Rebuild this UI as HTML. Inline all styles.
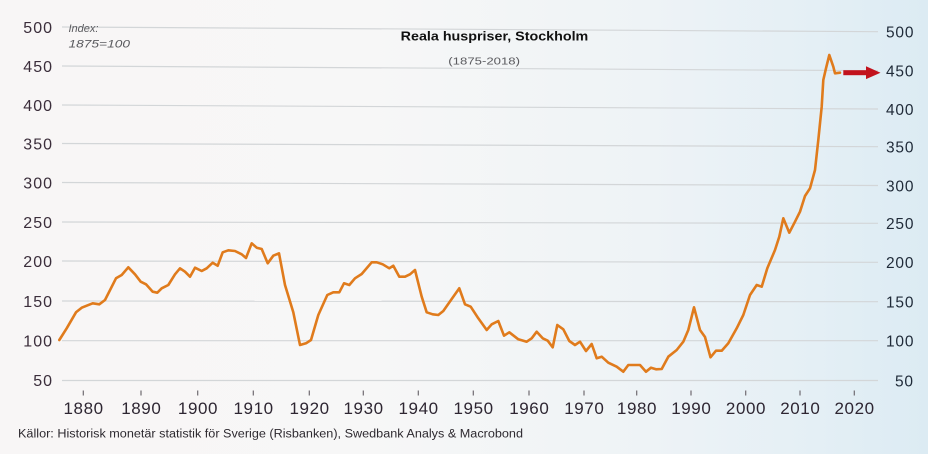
<!DOCTYPE html>
<html>
<head>
<meta charset="utf-8">
<style>
  html,body{margin:0;padding:0;}
  body{width:928px;height:454px;overflow:hidden;
    background:linear-gradient(90deg,#f8f6f6 0%,#f7f7f7 40%,#eef3f6 70%,#e4eff5 88%,#dcebf3 100%);}
  svg{display:block;}
  text{font-family:"Liberation Sans",sans-serif;}
</style>
</head>
<body>
<svg width="928" height="454" viewBox="0 0 928 454" xmlns="http://www.w3.org/2000/svg">
  <!-- gridlines -->
  <g stroke="#d3d6d8" stroke-width="1.2" fill="none">
    <line x1="62" y1="27" x2="878" y2="31.7"/>
    <line x1="62" y1="66" x2="878" y2="70.7"/>
    <line x1="62" y1="105" x2="878" y2="109"/>
    <line x1="62" y1="143.5" x2="878" y2="146.7"/>
    <line x1="62" y1="182.5" x2="878" y2="185.5"/>
    <line x1="62" y1="222" x2="878" y2="223.3"/>
    <line x1="62" y1="261" x2="878" y2="262.3"/>
    <line x1="62" y1="301" x2="878" y2="301.7"/>
    <line x1="62" y1="340.7" x2="878" y2="340.7"/>
    <line x1="62" y1="380.5" x2="878" y2="380.5"/>
  </g>

  <!-- left axis labels -->
  <g fill="#3b2e3b" font-size="16" letter-spacing="1" text-anchor="end">
    <text x="53" y="33">500</text>
    <text x="53" y="72">450</text>
    <text x="53" y="111">400</text>
    <text x="53" y="149.5">350</text>
    <text x="53" y="188.5">300</text>
    <text x="53" y="228">250</text>
    <text x="53" y="267">200</text>
    <text x="53" y="307">150</text>
    <text x="53" y="346.5">100</text>
    <text x="53" y="386">50</text>
  </g>

  <!-- right axis labels -->
  <g fill="#1f2a38" font-size="15.5" letter-spacing="0.8">
    <text x="886" y="37.5">500</text>
    <text x="886" y="76.5">450</text>
    <text x="886" y="114.8">400</text>
    <text x="886" y="152.5">350</text>
    <text x="886" y="191.3">300</text>
    <text x="886" y="229">250</text>
    <text x="886" y="268">200</text>
    <text x="886" y="307.5">150</text>
    <text x="886" y="346.5">100</text>
    <text x="895" y="386.3">50</text>
  </g>

  <!-- x ticks -->
  <g stroke="#6f6a70" stroke-width="1.2">
    <line x1="83.3" y1="390.5" x2="83.3" y2="395.5"/>
    <line x1="141" y1="390.5" x2="141" y2="395.5"/>
    <line x1="197.7" y1="390.5" x2="197.7" y2="395.5"/>
    <line x1="253.3" y1="390.5" x2="253.3" y2="395.5"/>
    <line x1="309.3" y1="390.5" x2="309.3" y2="395.5"/>
    <line x1="363.3" y1="390.5" x2="363.3" y2="395.5"/>
    <line x1="418.3" y1="390.5" x2="418.3" y2="395.5"/>
    <line x1="473.3" y1="390.5" x2="473.3" y2="395.5"/>
    <line x1="529" y1="390.5" x2="529" y2="395.5"/>
    <line x1="584" y1="390.5" x2="584" y2="395.5"/>
    <line x1="636.7" y1="390.5" x2="636.7" y2="395.5"/>
    <line x1="691" y1="390.5" x2="691" y2="395.5"/>
    <line x1="745.7" y1="390.5" x2="745.7" y2="395.5"/>
    <line x1="800" y1="390.5" x2="800" y2="395.5"/>
    <line x1="854.3" y1="390.5" x2="854.3" y2="395.5"/>
  </g>

  <!-- x labels -->
  <g fill="#2e2632" font-size="17" letter-spacing="0.6" text-anchor="middle">
    <text x="83.6" y="413.8">1880</text>
    <text x="141.3" y="413.8">1890</text>
    <text x="198" y="413.8">1900</text>
    <text x="253.6" y="413.8">1910</text>
    <text x="309.6" y="413.8">1920</text>
    <text x="363.6" y="413.8">1930</text>
    <text x="418.6" y="413.8">1940</text>
    <text x="473.6" y="413.8">1950</text>
    <text x="529.3" y="413.8">1960</text>
    <text x="584.3" y="413.8">1970</text>
    <text x="637" y="413.8">1980</text>
    <text x="691.3" y="413.8">1990</text>
    <text x="746" y="413.8">2000</text>
    <text x="800.3" y="413.8">2010</text>
    <text x="854.6" y="413.8">2020</text>
  </g>

  <!-- index note -->
  <g fill="#5a5a5e" font-size="11" font-style="italic">
    <text x="68.5" y="32">Index:</text>
    <text x="68.5" y="47.3" textLength="61.5" lengthAdjust="spacingAndGlyphs">1875=100</text>
  </g>

  <!-- title -->
  <text x="400.7" y="40.7" font-size="13" font-weight="bold" fill="#111" textLength="187.6" lengthAdjust="spacingAndGlyphs">Reala huspriser, Stockholm</text>
  <text x="448.3" y="64.3" font-size="10" fill="#5a5a5e" textLength="71.7" lengthAdjust="spacingAndGlyphs">(1875-2018)</text>

  <!-- source -->
  <text x="18" y="437.5" font-size="11.5" fill="#2e2a30" textLength="505" lengthAdjust="spacingAndGlyphs">Källor: Historisk monetär statistik för Sverige (Risbanken), Swedbank Analys &amp; Macrobond</text>

  <!-- data line -->
  <polyline fill="none" stroke="#e07b1c" stroke-width="2.6" stroke-linejoin="round" stroke-linecap="round"
    points="59.3,340 66.7,328.3 76,312.3 81.7,307.7 86.7,305.7 92.7,303.3 99.3,304.3 105,300 116,278.3 121.7,275 128.3,267.3 135,274.3 140.7,281.7 146,284.3 152.7,291.7 157.3,292.7 161.7,288.3 168.3,285 175,274.3 180,268.3 185,271.7 190,276.7 195,267.7 201.7,271 206.7,268.3 212.7,262.7 217.7,265.7 222.7,252.3 228.3,250.3 235,251 241.7,254.3 246,258 251.7,243.3 256.7,247.7 261.7,249 267.7,263.3 273.3,255.7 279,253.3 285,285 293.3,312.3 300,345 306,343.3 311,340 318.3,315 327.3,295 333.3,292.3 339.3,292.3 344,283.3 349.3,285 355,278.3 361.7,274 371.7,262.3 376.7,262.3 382.7,264.3 389.3,268.3 393.3,265.7 399.3,276.7 405,276.7 410,274.3 415,270 421.7,296.7 426.7,312.3 432.7,314.3 438.3,315 443.3,311 451.7,299 459.3,288.3 465,304.3 470.7,306.7 478.3,318.3 486.7,330 491.7,324.3 498.3,321 504,335.7 509.3,332.3 518.3,339.3 526.7,341.7 531.7,338.3 536.7,331.7 542.7,338.3 547.7,340.7 552.7,347.3 557.3,325 563.3,329.3 569.3,341 575,345 580,341.7 586,351 591.7,344 596.7,358.3 601.7,356.7 608.3,362.7 616.7,366.7 623.3,371.7 628.3,365 640,365 646,371.7 651,367.7 656,369.3 661.7,369 668.3,356.7 676.7,350 683.3,341.7 688.3,330 694,307.3 700,330 705,337 710.5,357.3 716,350.7 721.7,350.7 728.3,343.3 736.7,328.3 743.3,315 750,295 756.7,285 761.7,286.7 767.3,268.3 775,250 779.3,236.7 783.3,218.3 789.3,232.7 795,221.7 800,211.7 805,196 810,188.3 815,170 818.3,140 821.7,106.7 823.3,80 826,68.3 829.3,55 833.3,66.7 835,73.3 840,72.7"/>

  <!-- red arrow -->
  <rect x="843.3" y="70.2" width="24" height="5" fill="#c2121c"/>
  <polygon points="866,66.3 880.5,72.7 866,79.1" fill="#c2121c"/>
</svg>
</body>
</html>
